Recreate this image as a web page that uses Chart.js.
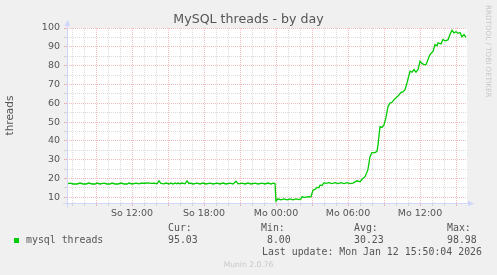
<!DOCTYPE html>
<html><head><meta charset="utf-8">
<script src="https://cdn.jsdelivr.net/npm/chart.js@4/dist/chart.umd.min.js"></script>
<style>
html,body{margin:0;padding:0;background:#f0f0f0;width:497px;height:275px;overflow:hidden;}
#wrap{position:relative;width:497px;height:275px;}
canvas{position:absolute;left:0;top:0;}
.t{position:absolute;white-space:pre;color:#555;font-family:"DejaVu Sans";line-height:1;}
.m{font-family:"DejaVu Sans Mono";font-size:9.9px;}
#sq{position:absolute;left:14px;top:238px;width:5px;height:5px;background:#00cc00;}
</style></head><body>
<div id="wrap">
<canvas id="c" width="497" height="275"></canvas>
<div class="t" id="title" style="left:0;width:497px;text-align:center;top:13px;font-size:12.6px"></div>
<div class="t" id="side" style="left:485px;top:5px;font-size:7.2px;color:#c8c8c8;writing-mode:vertical-rl;"></div>
<div id="sq"></div>
<div class="t m" id="series" style="left:26px;top:235px"></div>
<div class="t m" id="hCur" style="left:168px;top:223px">Cur:</div>
<div class="t m" id="hMin" style="left:261px;top:223px">Min:</div>
<div class="t m" id="hAvg" style="left:354px;top:223px">Avg:</div>
<div class="t m" id="hMax" style="left:447px;top:223px">Max:</div>
<div class="t m" id="vCur" style="left:168px;top:235px"></div>
<div class="t m" id="vMin" style="left:261px;top:235px"></div>
<div class="t m" id="vAvg" style="left:354px;top:235px"></div>
<div class="t m" id="vMax" style="left:447px;top:235px"></div>
<div class="t m" id="upd" style="left:262px;top:247px"></div>
<div class="t" id="munin" style="left:0;width:497px;text-align:center;top:261px;font-size:7.6px;color:#c8c8c8"></div>
</div>
<script>
// ---- data ----
const chartTitle = 'MySQL threads - by day';
const yAxisTitle = 'threads';
const seriesName = 'mysql threads';
// minutes relative to Mon 00:00
const minutes = [-1045,-1030,-1015,-995,-980,-965,-950,-935,-920,-905,-895,-880,-860,-845,-830,-820,-805,-790,-775,-760,-745,-735,-720,-700,-685,-675,-655,-640,-625,-610,-595,-585,-575,-560,-550,-535,-525,-515,-505,-495,-490,-480,-470,-455,-445,-435,-430,-415,-395,-380,-365,-350,-330,-315,-295,-280,-265,-250,-230,-215,-200,-190,-170,-155,-140,-125,-105,-90,-70,-55,-40,-25,-15,-5,
0,10,25,40,55,70,85,100,115,125,130,145,160,175,185,195,205,215,220,230,240,250,265,280,295,310,325,340,355,370,385,395,405,415,420,430,445,455,460,470,480,495,505,510,520,530,540,550,560,570,580,590,600,610,625,635,645,655,665,670,680,690,700,710,720,730,740,750,760,770,785,795,805,810,825,835,845,860,870,880,890,900,910,920,930,940,950];
const threads = [17.2,17.6,17.1,17.1,17.6,17.1,17.1,17.6,17.1,17.1,17.6,17.1,17.6,17.1,17.1,17.6,17.1,17.1,17.6,17.1,17.1,17.6,17.1,17.6,17.2,17.6,17.5,17.7,17.4,17.6,17.2,18.8,17.4,17.2,17.6,17.1,17.6,17.1,17.6,17.2,17.6,17.2,17.6,17.2,18.8,17.3,17.6,17.1,17.6,17.1,17.6,17.1,17.6,17.1,17.6,17.1,17.6,17.1,17.6,17.1,18.6,17.2,17.6,17.1,17.6,17.1,17.6,17.1,17.6,17.1,17.6,17.1,17.6,17.4,
8.0,9.2,8.7,9.2,8.7,9.2,8.7,9.2,8.8,9.2,10.3,10.0,10.4,10.3,13.9,14.2,15.3,15.2,16.5,16.3,17.8,17.4,17.8,17.3,17.8,17.3,17.8,17.3,17.8,17.3,17.6,18.2,18.8,18.5,18.3,19.6,21.0,23.5,25.0,31.6,33.8,33.8,34.5,37.9,47.6,47.2,48.5,52.5,58.3,60.1,60.5,61.9,63.0,63.8,65.8,66.0,67.2,70.8,75.0,77.0,76.5,77.9,76.5,77.9,82.3,81.2,80.5,80.5,83.2,85.9,87.6,91.2,90.5,92.1,91.5,93.9,93.2,93.7,96.5,98.8,97.4,98.0,97.2,97.6,95.3,96.5,95.0];
const xMin = -1045, xMax = 955;          // Sun 06:35 .. Mon 15:55
const xTickMinutes = [-720,-360,0,360,720];
const xTickLabels = ['So 12:00','So 18:00','Mo 00:00','Mo 06:00','Mo 12:00'];
const yMin = 7, yMax = 100;
const yTickValues = [10,15,20,25,30,35,40,45,50,55,60,65,70,75,80,85,90,95,100];
const curValue = '95.03', minValue = ' 8.00', avgValue = '30.23', maxValue = '98.98';
const lastUpdate = 'Last update: Mon Jan 12 15:50:04 2026';
const sideText = 'RRDTOOL / TOBI OETIKER';
const footer = 'Munin 2.0.76';

// ---- text ----
document.getElementById('title').textContent = chartTitle;
document.getElementById('side').textContent = sideText;
document.getElementById('series').textContent = seriesName;
document.getElementById('vCur').textContent = curValue;
document.getElementById('vMin').textContent = minValue;
document.getElementById('vAvg').textContent = avgValue;
document.getElementById('vMax').textContent = maxValue;
document.getElementById('upd').textContent = lastUpdate;
document.getElementById('munin').textContent = footer;

const RED = 'rgba(222,79,79,0.38)';
const GRAY = 'rgba(143,143,143,0.32)';
const AXIS = '#cfd6f8';

const frame = {
  id: 'frame',
  beforeDraw(chart) {
    const {ctx, chartArea: a} = chart;
    ctx.save();
    ctx.fillStyle = '#ffffff';
    ctx.fillRect(a.left, a.top, a.right - a.left, a.bottom - a.top);
    ctx.restore();
  },
  afterDraw(chart) {
    const {ctx, chartArea: a} = chart;
    const L = Math.round(a.left) + 0.5, B = Math.round(a.bottom) + 0.5;
    ctx.save();
    ctx.strokeStyle = AXIS; ctx.fillStyle = AXIS; ctx.lineWidth = 1;
    ctx.beginPath();
    ctx.moveTo(L, a.top - 4); ctx.lineTo(L, B + 4);
    ctx.moveTo(a.left - 4, B); ctx.lineTo(a.right + 3, B);
    ctx.stroke();
    ctx.beginPath();
    ctx.moveTo(L - 3, a.top - 2); ctx.lineTo(L + 3, a.top - 2); ctx.lineTo(L, a.top - 8); ctx.closePath(); ctx.fill();
    ctx.beginPath();
    ctx.moveTo(a.right + 1, B - 3); ctx.lineTo(a.right + 1, B + 3); ctx.lineTo(a.right + 7, B); ctx.closePath(); ctx.fill();
    ctx.restore();
  }
};

new Chart(document.getElementById('c'), {
  type: 'line',
  data: {
    datasets: [{
      label: seriesName,
      data: minutes.map((m, i) => ({x: m, y: threads[i]})),
      borderColor: '#00cc00',
      borderWidth: 1.3,
      pointRadius: 0,
      tension: 0,
      fill: false
    }]
  },
  options: {
    responsive: false,
    animation: false,
    devicePixelRatio: 1,
    layout: {padding: {left: 0, top: 28, right: 30, bottom: 0}},
    plugins: {legend: {display: false}, title: {display: false}, tooltip: {enabled: false}},
    scales: {
      x: {
        type: 'linear', min: xMin, max: xMax,
        afterFit(s) { s.height = 72; },
        afterBuildTicks(s) {
          const t = [];
          for (let v = Math.ceil(xMin / 60) * 60; v < xMax; v += 60) t.push({value: v});
          s.ticks = t;
        },
        ticks: {
          autoSkip: false, maxRotation: 0, padding: 2,
          color: '#555', font: {family: 'DejaVu Sans', size: 9.5},
          callback(v) { const i = xTickMinutes.indexOf(v); return i >= 0 ? xTickLabels[i] : ''; }
        },
        grid: {
          color: c => (c.tick && c.tick.value % 180 === 0) ? RED : GRAY,
          lineWidth: 1, drawTicks: true, tickLength: 3
        },
        border: {display: false, dash: [1, 1]}
      },
      y: {
        type: 'linear', min: yMin, max: yMax,
        afterFit(s) { s.width = 67; },
        afterBuildTicks(s) { s.ticks = yTickValues.map(v => ({value: v})); },
        ticks: {
          autoSkip: false, padding: 4,
          color: '#555', font: {family: 'DejaVu Sans', size: 9.5},
          callback(v) { return v % 10 === 0 ? String(v) : ''; }
        },
        grid: {
          color: c => (c.tick && c.tick.value % 10 === 0) ? RED : GRAY,
          lineWidth: 1, drawTicks: true, tickLength: 3
        },
        border: {display: false, dash: [1, 1]},
        title: {
          display: true, text: yAxisTitle, color: '#555',
          font: {family: 'DejaVu Sans', size: 10.5}, padding: {top: 4, bottom: 0}
        }
      }
    }
  },
  plugins: [frame]
});
</script>
</body></html>
